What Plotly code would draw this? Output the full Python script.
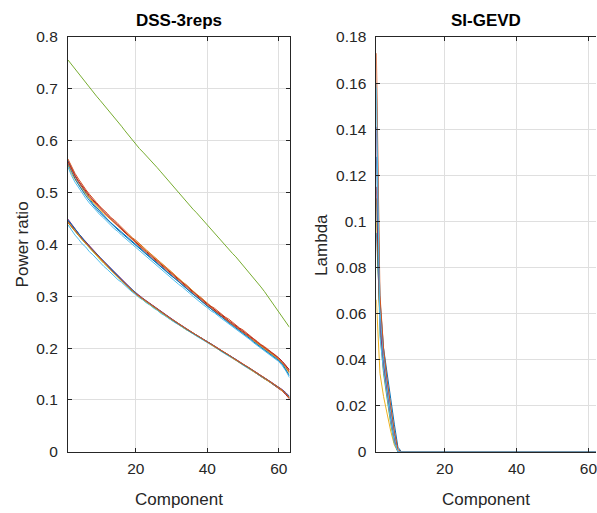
import plotly.graph_objects as go

# Component index shared by every series
components = list(range(1, 64))

# ---- DSS-3reps: power ratio per component ----
dss_top = [0.756, 0.747, 0.738, 0.729, 0.720, 0.711, 0.702, 0.694, 0.686, 0.678,
           0.670, 0.662, 0.654, 0.646, 0.637, 0.628, 0.619, 0.610, 0.601, 0.593,
           0.585, 0.578, 0.571, 0.564, 0.556, 0.548, 0.540, 0.532, 0.523, 0.515,
           0.507, 0.498, 0.490, 0.482, 0.475, 0.468, 0.461, 0.453, 0.446, 0.438,
           0.430, 0.423, 0.415, 0.407, 0.399, 0.391, 0.383, 0.376, 0.368, 0.360,
           0.352, 0.344, 0.336, 0.327, 0.318, 0.309, 0.299, 0.290, 0.280, 0.270,
           0.260, 0.250, 0.240]

dss_upper_1 = [0.562, 0.546, 0.532, 0.520, 0.509, 0.499, 0.489, 0.479, 0.471, 0.463,
               0.456, 0.449, 0.442, 0.436, 0.429, 0.423, 0.417, 0.411, 0.405, 0.399,
               0.393, 0.387, 0.382, 0.376, 0.370, 0.364, 0.358, 0.352, 0.346, 0.340,
               0.334, 0.328, 0.322, 0.316, 0.310, 0.304, 0.299, 0.293, 0.287, 0.282,
               0.276, 0.271, 0.266, 0.260, 0.255, 0.250, 0.245, 0.240, 0.235, 0.230,
               0.225, 0.220, 0.214, 0.209, 0.204, 0.199, 0.194, 0.189, 0.184, 0.178,
               0.171, 0.163, 0.153]
dss_upper_2 = [0.565, 0.550, 0.537, 0.526, 0.515, 0.506, 0.497, 0.488, 0.481, 0.473,
               0.467, 0.460, 0.452, 0.447, 0.440, 0.433, 0.427, 0.421, 0.413, 0.408,
               0.401, 0.394, 0.389, 0.383, 0.376, 0.371, 0.365, 0.358, 0.353, 0.347,
               0.340, 0.335, 0.328, 0.323, 0.316, 0.311, 0.304, 0.299, 0.293, 0.288,
               0.281, 0.277, 0.271, 0.266, 0.260, 0.256, 0.250, 0.245, 0.239, 0.235,
               0.229, 0.224, 0.218, 0.213, 0.207, 0.203, 0.197, 0.192, 0.187, 0.181,
               0.174, 0.166, 0.157]
dss_upper_3 = [0.553, 0.537, 0.525, 0.515, 0.506, 0.497, 0.489, 0.481, 0.474, 0.467,
               0.460, 0.454, 0.448, 0.442, 0.436, 0.430, 0.424, 0.418, 0.411, 0.405,
               0.399, 0.393, 0.387, 0.381, 0.375, 0.369, 0.363, 0.357, 0.351, 0.345,
               0.339, 0.333, 0.327, 0.321, 0.315, 0.309, 0.303, 0.297, 0.291, 0.285,
               0.279, 0.274, 0.268, 0.263, 0.257, 0.252, 0.246, 0.241, 0.236, 0.230,
               0.225, 0.220, 0.214, 0.209, 0.204, 0.199, 0.194, 0.189, 0.184, 0.178,
               0.171, 0.162, 0.151]
dss_upper_4 = [0.560, 0.545, 0.533, 0.522, 0.512, 0.503, 0.494, 0.486, 0.478, 0.471,
               0.464, 0.457, 0.450, 0.443, 0.437, 0.430, 0.424, 0.417, 0.411, 0.404,
               0.398, 0.392, 0.386, 0.380, 0.374, 0.368, 0.362, 0.356, 0.350, 0.344,
               0.338, 0.332, 0.326, 0.320, 0.314, 0.308, 0.302, 0.296, 0.291, 0.285,
               0.280, 0.274, 0.269, 0.264, 0.258, 0.253, 0.248, 0.243, 0.237, 0.232,
               0.227, 0.222, 0.217, 0.211, 0.206, 0.201, 0.196, 0.191, 0.186, 0.181,
               0.174, 0.167, 0.158]
dss_upper_5 = [0.550, 0.533, 0.520, 0.509, 0.499, 0.489, 0.480, 0.472, 0.465, 0.457,
               0.451, 0.443, 0.437, 0.430, 0.425, 0.418, 0.412, 0.406, 0.400, 0.394,
               0.388, 0.382, 0.377, 0.370, 0.365, 0.358, 0.353, 0.346, 0.341, 0.334,
               0.329, 0.323, 0.318, 0.311, 0.306, 0.300, 0.294, 0.289, 0.283, 0.278,
               0.272, 0.268, 0.262, 0.257, 0.252, 0.247, 0.242, 0.236, 0.231, 0.226,
               0.221, 0.216, 0.210, 0.205, 0.200, 0.195, 0.190, 0.185, 0.180, 0.174,
               0.166, 0.156, 0.143]
dss_upper_6 = [0.556, 0.540, 0.527, 0.515, 0.504, 0.494, 0.485, 0.476, 0.468, 0.461,
               0.454, 0.447, 0.440, 0.434, 0.428, 0.422, 0.416, 0.410, 0.404, 0.398,
               0.393, 0.387, 0.381, 0.375, 0.369, 0.363, 0.357, 0.351, 0.345, 0.339,
               0.334, 0.328, 0.322, 0.316, 0.310, 0.304, 0.298, 0.292, 0.287, 0.281,
               0.276, 0.270, 0.265, 0.260, 0.254, 0.249, 0.244, 0.239, 0.233, 0.228,
               0.223, 0.218, 0.212, 0.207, 0.202, 0.197, 0.192, 0.187, 0.182, 0.176,
               0.169, 0.159, 0.147]
dss_upper_7 = [0.558, 0.544, 0.531, 0.520, 0.510, 0.501, 0.492, 0.484, 0.476, 0.469,
               0.462, 0.455, 0.448, 0.442, 0.435, 0.429, 0.422, 0.416, 0.409, 0.403,
               0.396, 0.390, 0.384, 0.378, 0.372, 0.366, 0.360, 0.354, 0.348, 0.342,
               0.336, 0.330, 0.324, 0.318, 0.312, 0.306, 0.300, 0.294, 0.289, 0.283,
               0.278, 0.272, 0.267, 0.262, 0.256, 0.251, 0.246, 0.241, 0.235, 0.230,
               0.225, 0.220, 0.215, 0.210, 0.205, 0.200, 0.195, 0.190, 0.185, 0.179,
               0.172, 0.164, 0.154]

dss_lower_1 = [0.449, 0.439, 0.430, 0.421, 0.413, 0.405, 0.397, 0.390, 0.382, 0.375,
               0.368, 0.361, 0.354, 0.347, 0.340, 0.333, 0.326, 0.320, 0.313, 0.307,
               0.301, 0.296, 0.291, 0.286, 0.281, 0.276, 0.271, 0.266, 0.261, 0.256,
               0.252, 0.247, 0.243, 0.238, 0.234, 0.229, 0.225, 0.221, 0.217, 0.213,
               0.208, 0.204, 0.200, 0.195, 0.191, 0.187, 0.182, 0.178, 0.174, 0.169,
               0.165, 0.161, 0.156, 0.152, 0.147, 0.143, 0.138, 0.134, 0.129, 0.125,
               0.120, 0.114, 0.107]
dss_lower_2 = [0.442, 0.433, 0.425, 0.417, 0.409, 0.401, 0.393, 0.386, 0.378, 0.371,
               0.364, 0.357, 0.350, 0.343, 0.336, 0.329, 0.323, 0.316, 0.310, 0.304,
               0.298, 0.293, 0.288, 0.283, 0.278, 0.273, 0.268, 0.264, 0.259, 0.254,
               0.250, 0.245, 0.241, 0.236, 0.232, 0.228, 0.224, 0.219, 0.215, 0.211,
               0.207, 0.203, 0.198, 0.194, 0.190, 0.185, 0.181, 0.177, 0.172, 0.168,
               0.164, 0.159, 0.155, 0.150, 0.146, 0.141, 0.137, 0.132, 0.128, 0.123,
               0.118, 0.112, 0.105]
dss_lower_3 = [0.438, 0.427, 0.418, 0.410, 0.401, 0.395, 0.386, 0.380, 0.372, 0.366,
               0.358, 0.352, 0.345, 0.339, 0.332, 0.327, 0.320, 0.314, 0.308, 0.303,
               0.297, 0.293, 0.287, 0.283, 0.277, 0.273, 0.267, 0.263, 0.258, 0.254,
               0.249, 0.245, 0.240, 0.236, 0.232, 0.227, 0.223, 0.219, 0.215, 0.211,
               0.206, 0.202, 0.198, 0.193, 0.189, 0.185, 0.180, 0.176, 0.172, 0.167,
               0.163, 0.159, 0.154, 0.150, 0.145, 0.141, 0.136, 0.132, 0.127, 0.123,
               0.118, 0.112, 0.105]
dss_lower_4 = [0.446, 0.437, 0.428, 0.420, 0.412, 0.404, 0.396, 0.389, 0.381, 0.374,
               0.366, 0.359, 0.352, 0.345, 0.338, 0.331, 0.325, 0.318, 0.312, 0.305,
               0.300, 0.295, 0.290, 0.285, 0.280, 0.275, 0.270, 0.265, 0.260, 0.255,
               0.251, 0.246, 0.242, 0.237, 0.233, 0.229, 0.225, 0.220, 0.216, 0.212,
               0.208, 0.203, 0.199, 0.195, 0.190, 0.186, 0.182, 0.177, 0.173, 0.168,
               0.164, 0.160, 0.155, 0.150, 0.146, 0.141, 0.137, 0.132, 0.127, 0.123,
               0.117, 0.110, 0.102]
dss_lower_5 = [0.444, 0.435, 0.426, 0.418, 0.410, 0.402, 0.394, 0.387, 0.379, 0.372,
               0.365, 0.358, 0.351, 0.344, 0.337, 0.331, 0.324, 0.318, 0.311, 0.305,
               0.299, 0.294, 0.289, 0.284, 0.279, 0.274, 0.269, 0.265, 0.260, 0.255,
               0.251, 0.246, 0.242, 0.237, 0.233, 0.229, 0.224, 0.220, 0.216, 0.212,
               0.207, 0.203, 0.199, 0.194, 0.190, 0.186, 0.181, 0.177, 0.172, 0.168,
               0.164, 0.159, 0.155, 0.150, 0.146, 0.141, 0.137, 0.132, 0.128, 0.123,
               0.118, 0.112, 0.104]
dss_lower_6 = [0.447, 0.438, 0.429, 0.421, 0.412, 0.404, 0.396, 0.389, 0.381, 0.373,
               0.366, 0.359, 0.352, 0.345, 0.338, 0.332, 0.325, 0.319, 0.312, 0.306,
               0.300, 0.295, 0.290, 0.285, 0.280, 0.275, 0.270, 0.265, 0.260, 0.256,
               0.251, 0.247, 0.242, 0.238, 0.233, 0.229, 0.225, 0.221, 0.217, 0.212,
               0.208, 0.204, 0.199, 0.195, 0.191, 0.186, 0.182, 0.178, 0.173, 0.169,
               0.165, 0.160, 0.156, 0.151, 0.147, 0.142, 0.138, 0.133, 0.129, 0.124,
               0.119, 0.113, 0.106]
dss_lower_7 = [0.443, 0.434, 0.426, 0.418, 0.410, 0.403, 0.395, 0.388, 0.380, 0.373,
               0.366, 0.359, 0.351, 0.344, 0.337, 0.330, 0.324, 0.317, 0.311, 0.305,
               0.300, 0.295, 0.290, 0.285, 0.280, 0.275, 0.270, 0.266, 0.261, 0.256,
               0.252, 0.247, 0.243, 0.238, 0.234, 0.229, 0.225, 0.221, 0.216, 0.212,
               0.208, 0.204, 0.200, 0.195, 0.191, 0.187, 0.182, 0.178, 0.174, 0.169,
               0.165, 0.161, 0.156, 0.152, 0.147, 0.143, 0.138, 0.134, 0.129, 0.124,
               0.119, 0.112, 0.103]

# ---- SI-GEVD: lambda per component ----
gevd_1 = [0.173, 0.068, 0.045, 0.031, 0.020, 0.009, 0.001, 0.0,
          0, 0, 0, 0, 0, 0, 0, 0, 0, 0, 0, 0, 0, 0, 0, 0, 0, 0, 0, 0, 0, 0,
          0, 0, 0, 0, 0, 0, 0, 0, 0, 0, 0, 0, 0, 0, 0, 0, 0, 0, 0, 0, 0, 0,
          0, 0, 0, 0, 0, 0, 0, 0, 0, 0, 0]
gevd_2 = [0.160, 0.062, 0.041, 0.028, 0.017, 0.007, 0.000, 0.0,
          0, 0, 0, 0, 0, 0, 0, 0, 0, 0, 0, 0, 0, 0, 0, 0, 0, 0, 0, 0, 0, 0,
          0, 0, 0, 0, 0, 0, 0, 0, 0, 0, 0, 0, 0, 0, 0, 0, 0, 0, 0, 0, 0, 0,
          0, 0, 0, 0, 0, 0, 0, 0, 0, 0, 0]
gevd_3 = [0.141, 0.058, 0.039, 0.026, 0.016, 0.006, 0.000, 0.0,
          0, 0, 0, 0, 0, 0, 0, 0, 0, 0, 0, 0, 0, 0, 0, 0, 0, 0, 0, 0, 0, 0,
          0, 0, 0, 0, 0, 0, 0, 0, 0, 0, 0, 0, 0, 0, 0, 0, 0, 0, 0, 0, 0, 0,
          0, 0, 0, 0, 0, 0, 0, 0, 0, 0, 0]
gevd_4 = [0.128, 0.066, 0.045, 0.033, 0.023, 0.012, 0.002, 0.0,
          0, 0, 0, 0, 0, 0, 0, 0, 0, 0, 0, 0, 0, 0, 0, 0, 0, 0, 0, 0, 0, 0,
          0, 0, 0, 0, 0, 0, 0, 0, 0, 0, 0, 0, 0, 0, 0, 0, 0, 0, 0, 0, 0, 0,
          0, 0, 0, 0, 0, 0, 0, 0, 0, 0, 0]
gevd_5 = [0.115, 0.055, 0.036, 0.024, 0.014, 0.005, 0.000, 0.0,
          0, 0, 0, 0, 0, 0, 0, 0, 0, 0, 0, 0, 0, 0, 0, 0, 0, 0, 0, 0, 0, 0,
          0, 0, 0, 0, 0, 0, 0, 0, 0, 0, 0, 0, 0, 0, 0, 0, 0, 0, 0, 0, 0, 0,
          0, 0, 0, 0, 0, 0, 0, 0, 0, 0, 0]
gevd_6 = [0.110, 0.052, 0.034, 0.022, 0.012, 0.004, 0.000, 0.0,
          0, 0, 0, 0, 0, 0, 0, 0, 0, 0, 0, 0, 0, 0, 0, 0, 0, 0, 0, 0, 0, 0,
          0, 0, 0, 0, 0, 0, 0, 0, 0, 0, 0, 0, 0, 0, 0, 0, 0, 0, 0, 0, 0, 0,
          0, 0, 0, 0, 0, 0, 0, 0, 0, 0, 0]
gevd_7 = [0.100, 0.057, 0.038, 0.025, 0.015, 0.006, 0.000, 0.0,
          0, 0, 0, 0, 0, 0, 0, 0, 0, 0, 0, 0, 0, 0, 0, 0, 0, 0, 0, 0, 0, 0,
          0, 0, 0, 0, 0, 0, 0, 0, 0, 0, 0, 0, 0, 0, 0, 0, 0, 0, 0, 0, 0, 0,
          0, 0, 0, 0, 0, 0, 0, 0, 0, 0, 0]
gevd_8 = [0.095, 0.060, 0.042, 0.029, 0.018, 0.008, 0.000, 0.0,
          0, 0, 0, 0, 0, 0, 0, 0, 0, 0, 0, 0, 0, 0, 0, 0, 0, 0, 0, 0, 0, 0,
          0, 0, 0, 0, 0, 0, 0, 0, 0, 0, 0, 0, 0, 0, 0, 0, 0, 0, 0, 0, 0, 0,
          0, 0, 0, 0, 0, 0, 0, 0, 0, 0, 0]
gevd_9 = [0.066, 0.034, 0.024, 0.016, 0.009, 0.003, 0.000, 0.0,
          0, 0, 0, 0, 0, 0, 0, 0, 0, 0, 0, 0, 0, 0, 0, 0, 0, 0, 0, 0, 0, 0,
          0, 0, 0, 0, 0, 0, 0, 0, 0, 0, 0, 0, 0, 0, 0, 0, 0, 0, 0, 0, 0, 0,
          0, 0, 0, 0, 0, 0, 0, 0, 0, 0, 0]
gevd_10 = [0.158, 0.050, 0.035, 0.023, 0.013, 0.004, 0.000, 0.0,
           0, 0, 0, 0, 0, 0, 0, 0, 0, 0, 0, 0, 0, 0, 0, 0, 0, 0, 0, 0, 0, 0,
           0, 0, 0, 0, 0, 0, 0, 0, 0, 0, 0, 0, 0, 0, 0, 0, 0, 0, 0, 0, 0, 0,
           0, 0, 0, 0, 0, 0, 0, 0, 0, 0, 0]

dss_yticks = [0, 0.1, 0.2, 0.3, 0.4, 0.5, 0.6, 0.7, 0.8]
dss_yticktext = ["0", "0.1", "0.2", "0.3", "0.4", "0.5", "0.6", "0.7", "0.8"]
gevd_yticks = [0, 0.02, 0.04, 0.06, 0.08, 0.10, 0.12, 0.14, 0.16, 0.18]
gevd_yticktext = ["0", "0.02", "0.04", "0.06", "0.08", "0.1", "0.12", "0.14", "0.16", "0.18"]
xticks = [20, 40, 60]

# MATLAB default colour order
BLUE, ORANGE, YELLOW, PURPLE = "#0072BD", "#D95319", "#EDB120", "#7E2F8E"
GREEN, CYAN, RED = "#77AC30", "#4DBEEE", "#A2142F"

dss_series = [
    (dss_lower_1, PURPLE), (dss_lower_2, GREEN), (dss_lower_3, CYAN),
    (dss_lower_4, RED), (dss_lower_5, YELLOW), (dss_lower_6, BLUE),
    (dss_lower_7, ORANGE),
    (dss_upper_1, BLUE), (dss_upper_2, ORANGE), (dss_upper_3, YELLOW),
    (dss_upper_4, RED), (dss_upper_5, CYAN), (dss_upper_6, BLUE),
    (dss_upper_7, ORANGE),
    (dss_top, GREEN),
]
gevd_series = [
    (gevd_9, YELLOW), (gevd_7, YELLOW), (gevd_8, BLUE), (gevd_6, GREEN),
    (gevd_5, RED), (gevd_4, BLUE), (gevd_3, PURPLE), (gevd_2, CYAN),
    (gevd_1, ORANGE), (gevd_10, CYAN),
]

fig = go.Figure()
for vals, col in dss_series:
    fig.add_trace(go.Scatter(x=components, y=vals, mode="lines",
                             line=dict(color=col, width=1),
                             xaxis="x", yaxis="y", showlegend=False))
for vals, col in gevd_series:
    fig.add_trace(go.Scatter(x=components, y=vals, mode="lines",
                             line=dict(color=col, width=1),
                             xaxis="x2", yaxis="y2", showlegend=False))

FONT = "Liberation Sans, Arial, Helvetica, sans-serif"
INK = "#262626"
W, H = 597, 513

axis_style = dict(
    showgrid=True, gridcolor="#DFDFDF", gridwidth=1,
    showline=True, linecolor=INK, linewidth=1,
    ticks="inside", ticklen=4, tickcolor=INK, tickwidth=1,
    tickfont=dict(family=FONT, size=15.5, color=INK),
    zeroline=False, fixedrange=True, ticklabeloverflow="allow",
)

y_dom = [(H - 458) / H, (H - 29) / H]
left_dom = [68 / W, 290 / W]
right_dom = [377 / W, 1.0]

fig.update_layout(
    width=W, height=H,
    margin=dict(l=0, r=0, t=0, b=0),
    paper_bgcolor="white", plot_bgcolor="white",
    font=dict(family=FONT, color=INK),
    xaxis=dict(axis_style, domain=left_dom, range=[1, 63], anchor="y",
               tickvals=xticks, mirror="ticks", ticklabelstandoff=3),
    yaxis=dict(axis_style, domain=y_dom, range=[0, 0.8], anchor="x",
               tickvals=dss_yticks, ticktext=dss_yticktext, mirror="ticks",
               ticklabelstandoff=6),
    xaxis2=dict(axis_style, domain=right_dom, range=[1, 62.1], anchor="y2",
                tickvals=xticks, mirror="ticks", ticklabelstandoff=3),
    yaxis2=dict(axis_style, domain=y_dom, range=[0, 0.18], anchor="x2",
                tickvals=gevd_yticks, ticktext=gevd_yticktext, mirror=False,
                ticklabelstandoff=6),
)

title_font = dict(family=FONT, size=17, color="black")
label_font = dict(family=FONT, size=17, color=INK)
ann = [
    dict(text="<b>DSS-3reps</b>", xref="x domain", yref="paper", x=0.5,
         y=(H - 12) / H, showarrow=False, font=title_font,
         xanchor="center", yanchor="middle"),
    dict(text="<b>SI-GEVD</b>", xref="x2 domain", yref="paper", x=0.5,
         y=(H - 12) / H, showarrow=False, font=title_font,
         xanchor="center", yanchor="middle"),
    dict(text="Component", xref="x domain", yref="paper", x=0.5,
         y=(H - 507) / H, showarrow=False, font=label_font,
         xanchor="center", yanchor="middle"),
    dict(text="Component", xref="paper", yref="paper", x=487 / W,
         y=(H - 507) / H, showarrow=False, font=label_font,
         xanchor="center", yanchor="middle"),
    dict(text="Power ratio", xref="paper", yref="paper", x=22 / W,
         y=(H - 243.5) / H, showarrow=False, font=label_font, textangle=-90,
         xanchor="center", yanchor="middle"),
    dict(text="Lambda", xref="paper", yref="paper", x=322 / W,
         y=(H - 243.5) / H, showarrow=False, font=label_font, textangle=-90,
         xanchor="center", yanchor="middle"),
]
fig.update_layout(annotations=ann)

fig.write_html("out.html")
